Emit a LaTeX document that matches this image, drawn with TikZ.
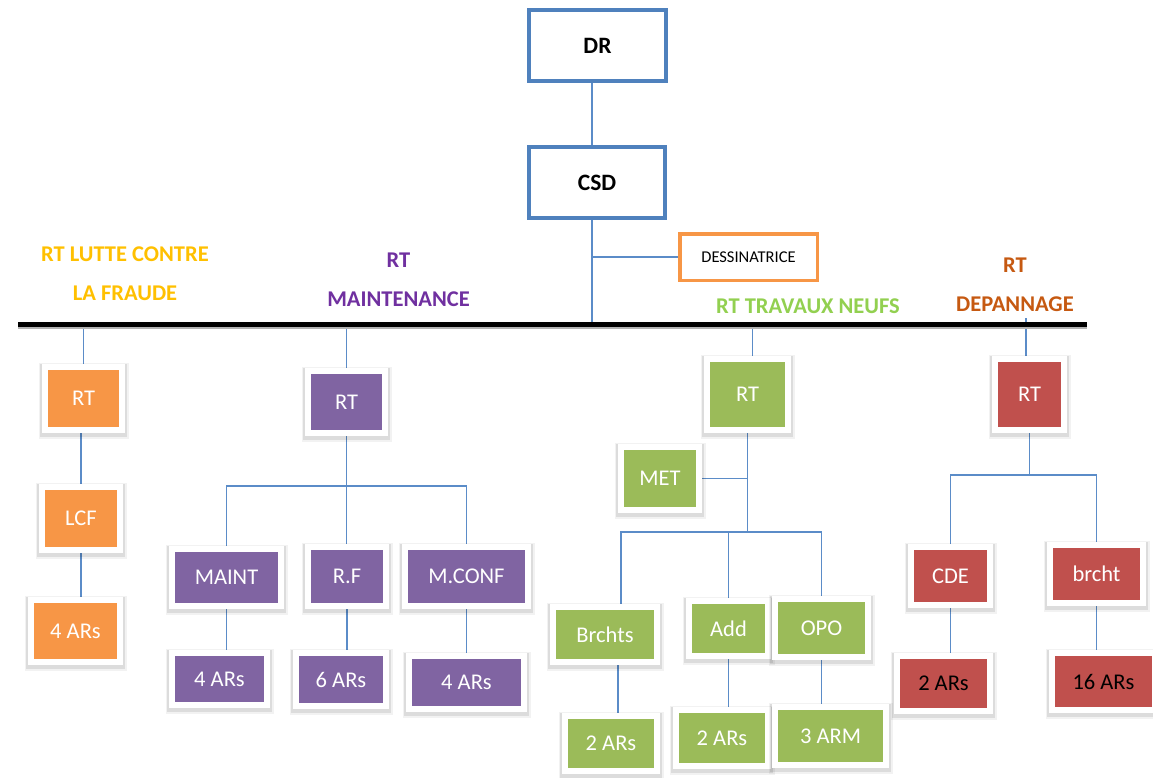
\documentclass[tikz,border=0pt]{standalone}
\usepackage{fontspec}
\setmainfont{Carlito}
\usepackage{tikz}
\usetikzlibrary{positioning,backgrounds}
\definecolor{orgblue}   {HTML}{4F81BD}
\definecolor{orgline}   {HTML}{5B8CC8}
\definecolor{orgorange} {HTML}{F79646}
\definecolor{orgpurple} {HTML}{8064A2}
\definecolor{orggreen}  {HTML}{9BBB59}
\definecolor{orgred}    {HTML}{C0504D}
\definecolor{orggold}   {HTML}{FFC000}
\definecolor{orgviolet} {HTML}{7030A0}
\definecolor{orglime}   {HTML}{92D050}
\definecolor{orgbrown}  {HTML}{C65911}
\tikzset{
  orgtop/.style={draw=orgblue, line width=4pt, fill=white, inner sep=0pt,
                 font=\fontsize{23.5}{28}\selectfont\bfseries},
  orgstaff/.style={draw=orgorange, line width=3.5pt, fill=white, inner sep=0pt,
                   font=\fontsize{16.5}{20}\selectfont},
  orgunit/.style={draw=white, line width=6pt, inner sep=0pt, text=white,
                  font=\fontsize{22.5}{27}\selectfont,
                  preaction={draw=black, draw opacity=.05, line width=13pt,
                             transform canvas={yshift=-2.5pt}},
                  preaction={draw=black, draw opacity=.09, line width=10pt,
                             transform canvas={yshift=-2pt}}},
  orghead/.style={align=center, inner sep=0pt,
                  font=\fontsize{22.5}{38.5}\selectfont\bfseries},
  orgedge/.style={draw=orgline, line width=1.7pt},
  orgbar/.style={draw=black, line width=4.5pt},
  orgbarshade/.style={draw=black!30, line width=4pt},
}

\begin{document}
\begin{tikzpicture}[x=1pt, y=-1pt]
  \useasboundingbox (0,0) rectangle (1153,777);
  % direction and staff
  \node[orgtop, minimum width=137pt, minimum height=71pt] (dr) at (597.5,45.5) {DR};
  \node[orgtop, minimum width=136pt, minimum height=71pt] (csd) at (597,182.5) {CSD};
  \node[orgstaff, minimum width=137.5pt, minimum height=46.5pt] (dess) at (748.5,257) {DESSINATRICE};
  \coordinate (barL) at (18,324.5);
  \coordinate (barR) at (1087,324.5);
  \coordinate (trunk) at (592,324.5);
  \draw[orgbarshade] ([yshift=-2.5pt]barL) -- ([yshift=-2.5pt]barR);
  \draw[orgbar] (barL) -- (barR);

  % section titles
  \node[orghead, text=orggold] (lcfhead) at (125,273.5) {RT LUTTE CONTRE\\LA FRAUDE};
  \node[orghead, text=orgviolet] (mnthead) at (398.5,280) {RT\\MAINTENANCE};
  \node[orghead, text=orglime] (tnhead) at (808,306.5) {RT TRAVAUX NEUFS};
  \node[orghead, text=orgbrown] (dephead) at (1015,285) {RT\\DEPANNAGE};

  % lutte contre la fraude
  \node[orgunit, fill=orgorange, minimum width=77pt, minimum height=63pt] (ort) at (83.5,398.5) {RT};
  \node[orgunit, fill=orgorange, minimum width=78pt, minimum height=63pt] (lcf) at (81,518.5) {LCF};
  \node[orgunit, fill=orgorange, minimum width=89pt, minimum height=62pt] (oars) at (75.5,631) {4 ARs};

  % maintenance
  \node[orgunit, fill=orgpurple, minimum width=77pt, minimum height=62pt] (prt) at (346.5,402) {RT};
  \node[orgunit, fill=orgpurple, minimum width=109pt, minimum height=57pt] (maint) at (226.5,577.5) {MAINT};
  \node[orgunit, fill=orgpurple, minimum width=78pt, minimum height=59pt] (rf) at (347,576.5) {R.F};
  \node[orgunit, fill=orgpurple, minimum width=123pt, minimum height=59pt] (mconf) at (466.5,576.5) {M.CONF};
  \node[orgunit, fill=orgpurple, minimum width=95pt, minimum height=52pt] (pars1) at (219.5,679) {4 ARs};
  \node[orgunit, fill=orgpurple, minimum width=90pt, minimum height=53pt] (pars2) at (341,679.5) {6 ARs};
  \node[orgunit, fill=orgpurple, minimum width=115pt, minimum height=53pt] (pars3) at (466.5,682.5) {4 ARs};

  % travaux neufs
  \node[orgunit, fill=orggreen, minimum width=81pt, minimum height=71pt] (grt) at (747.5,394.5) {RT};
  \node[orgunit, fill=orggreen, minimum width=78pt, minimum height=63pt] (met) at (660,478.5) {MET};
  \node[orgunit, fill=orggreen, minimum width=104pt, minimum height=55pt] (brchts) at (605,634.5) {Brchts};
  \node[orgunit, fill=orggreen, minimum width=79pt, minimum height=55pt] (add) at (728.5,628.5) {Add};
  \node[orgunit, fill=orggreen, minimum width=93pt, minimum height=58pt] (opo) at (821.5,628) {OPO};
  \node[orgunit, fill=orggreen, minimum width=92pt, minimum height=55pt] (gars1) at (611,743.5) {2 ARs};
  \node[orgunit, fill=orggreen, minimum width=92pt, minimum height=56pt] (gars2) at (722,738) {2 ARs};
  \node[orgunit, fill=orggreen, minimum width=111pt, minimum height=58pt] (garm) at (830.5,736) {3 ARM};

  % depannage
  \node[orgunit, fill=orgred, minimum width=69pt, minimum height=71pt] (rrt) at (1029.5,394.5) {RT};
  \node[orgunit, fill=orgred, minimum width=79pt, minimum height=58pt] (cde) at (950.5,576) {CDE};
  \node[orgunit, fill=orgred, minimum width=93pt, minimum height=58pt] (brcht) at (1096.5,574) {brcht};
  \node[orgunit, fill=orgred, text=black, minimum width=93pt, minimum height=55pt] (rars1) at (943.5,683.5) {2 ARs};
  \node[orgunit, fill=orgred, text=black, minimum width=103pt, minimum height=57pt] (rars2) at (1103.5,681.5) {16 ARs};

  \coordinate (pbus) at (346.5,486);
  \coordinate (gbus) at (747.5,532);
  \coordinate (rbus) at (1029.5,475);
  \coordinate (deptop) at (1026,318);
  \coordinate (grtin) at ([xshift=5pt]grt.north);
  \coordinate (brin) at ([xshift=16pt]brchts.north);
  \coordinate (g1in) at ([xshift=7pt]gars1.north);

  \begin{scope}[on background layer]
    \fill[white] (0,0) rectangle (1153,777);
    \draw[orgedge] (dr.south -| trunk) -- (csd.north -| trunk);
    \draw[orgedge] (csd.south -| trunk) -- (trunk);
    \draw[orgedge] (dess) -- (dess -| trunk);
    % drops from the bar
    \draw[orgedge] (ort.north |- barL) -- (ort);
    \draw[orgedge] (prt.north |- barL) -- (prt);
    \draw[orgedge] (grtin |- barL) -- (grtin);
    \draw[orgedge] (deptop) -- (deptop |- rrt.north);
    % fraude
    \draw[orgedge] (lcf) -- (lcf |- ort.south);
    \draw[orgedge] (lcf) -- (lcf |- oars.north);
    % maintenance
    \draw[orgedge] (prt) -- (pbus);
    \draw[orgedge] (maint) |- (pbus) -| (mconf);
    \draw[orgedge] (pbus) -- (pbus |- rf.north);
    \draw[orgedge] (maint) -- (maint |- pars1.north);
    \draw[orgedge] (rf) -- (rf |- pars2.north);
    \draw[orgedge] (mconf) -- (mconf |- pars3.north);
    % travaux neufs
    \draw[orgedge] (grt) -- (gbus);
    \draw[orgedge] (met) -- (met -| grt);
    \draw[orgedge] (brin) |- (gbus) -| (opo);
    \draw[orgedge] (gbus -| add) -- (add);
    \draw[orgedge] (g1in) -- (g1in |- brchts.south);
    \draw[orgedge] (add) -- (add |- gars2.north);
    \draw[orgedge] (opo) -- (opo |- garm.north);
    % depannage
    \draw[orgedge] (rrt) -- (rbus);
    \draw[orgedge] (cde) |- (rbus) -| (brcht);
    \draw[orgedge] (cde) -- (cde |- rars1.north);
    \draw[orgedge] (brcht) -- (brcht |- rars2.north);
  \end{scope}
\end{tikzpicture}
\end{document}
